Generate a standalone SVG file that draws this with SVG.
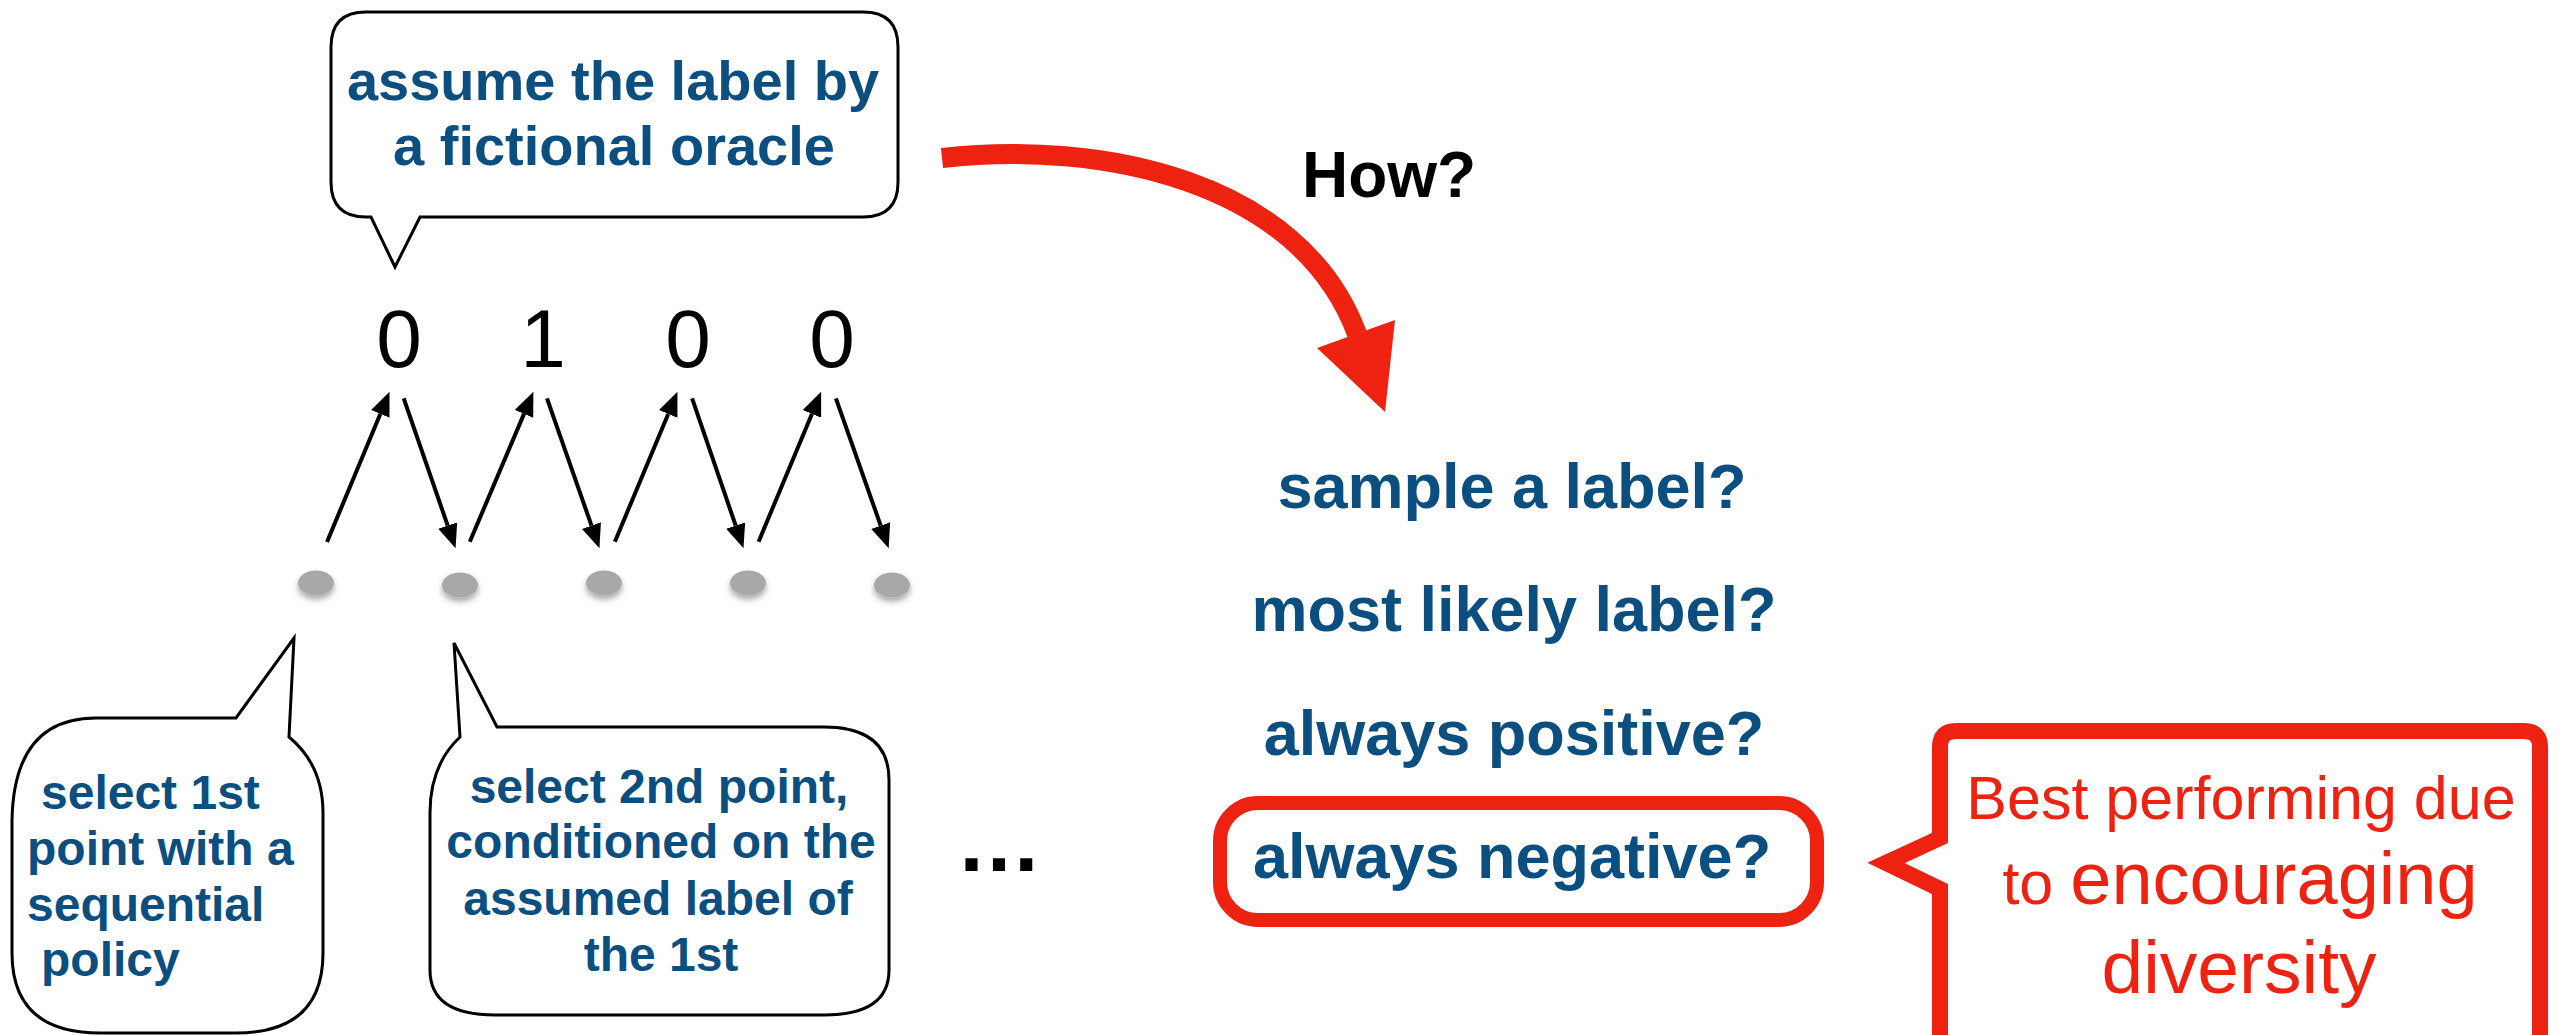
<svg xmlns="http://www.w3.org/2000/svg" width="2566" height="1035" viewBox="0 0 2566 1035">
<style>
.bubble{fill:#fff;stroke:#000;stroke-width:3;stroke-linejoin:miter}
.blue{fill:#0b4e80;font-family:"Liberation Sans",Arial,sans-serif;font-weight:bold}
.digit{fill:#000;font-family:"Liberation Sans",Arial,sans-serif;font-size:82px;text-anchor:middle}
.red{fill:#ee2211;font-family:"Liberation Sans",Arial,sans-serif}
.arr{stroke:#000;stroke-width:4;fill:none}
.dot{fill:#a7a9a8;filter:url(#sh)}
</style>
<defs>
<marker id="ah" markerUnits="userSpaceOnUse" markerWidth="24" markerHeight="20" refX="0" refY="10" orient="auto">
<path d="M0,0 L24,10 L0,20 Z" fill="#000"/>
</marker>
<filter id="sh" x="-50%" y="-50%" width="200%" height="220%">
<feDropShadow dx="0" dy="4" stdDeviation="3" flood-color="#000" flood-opacity="0.35"/>
</filter>
</defs>
<rect width="2566" height="1035" fill="#fff"/>

<g id="oracle-callout">
<path class="bubble" d="M366,12 L863,12 Q898,12 898,47 L898,182 Q898,217 863,217 L420,217 L395,267 L371,217 L366,217 Q331,217 331,182 L331,47 Q331,12 366,12 Z"/>
<text class="blue" font-size="56" text-anchor="middle"><tspan x="613" y="100">assume the label by</tspan><tspan x="614" y="165">a fictional oracle</tspan></text>
</g>

<g id="labels">
<text class="digit" x="399" y="367">0</text>
<text class="digit" x="543" y="367">1</text>
<text class="digit" x="688" y="367">0</text>
<text class="digit" x="832" y="367">0</text>
</g>

<g id="points">
<ellipse class="dot" cx="316" cy="583" rx="18" ry="12.5"/>
<ellipse class="dot" cx="460" cy="585" rx="18" ry="12.5"/>
<ellipse class="dot" cx="604" cy="583" rx="18" ry="12.5"/>
<ellipse class="dot" cx="748" cy="583" rx="18" ry="12.5"/>
<ellipse class="dot" cx="892" cy="585" rx="18" ry="12.5"/>
</g>

<g id="connectors">
<line class="arr" x1="327" y1="542" x2="380.3" y2="413.9" marker-end="url(#ah)"/>
<line class="arr" x1="403.7" y1="398.3" x2="447.7" y2="525.6" marker-end="url(#ah)"/>
<line class="arr" x1="469.8" y1="541.7" x2="524" y2="413.9" marker-end="url(#ah)"/>
<line class="arr" x1="547" y1="398.3" x2="591.5" y2="525.6" marker-end="url(#ah)"/>
<line class="arr" x1="614.9" y1="541.7" x2="668.2" y2="413.9" marker-end="url(#ah)"/>
<line class="arr" x1="692.1" y1="398.3" x2="735.7" y2="525.6" marker-end="url(#ah)"/>
<line class="arr" x1="758.6" y1="541.7" x2="811.9" y2="413.9" marker-end="url(#ah)"/>
<line class="arr" x1="835.9" y1="398.3" x2="880.7" y2="525.6" marker-end="url(#ah)"/>
<path d="M942,158 C1100,140 1300,180 1357,334" fill="none" stroke="#ee2211" stroke-width="20"/>
<polygon points="1317,348 1395,320 1385,412" fill="#ee2211"/>
</g>

<g id="first-callout">
<path class="bubble" d="M96,718 L236,718 L294,638 L289,737 Q323,765 323,813 L323,953 Q323,1033 236,1033 L100,1033 Q12,1033 12,953 L12,820 Q14,718 96,718 Z"/>
<text class="blue" font-size="48"><tspan x="41" y="809">select 1st</tspan><tspan x="27" y="865">point with a</tspan><tspan x="27" y="921">sequential</tspan><tspan x="41" y="976">policy</tspan></text>
</g>

<g id="second-callout">
<path class="bubble" d="M497,727 L824,727 Q889,727 889,780 L889,970 Q889,1015 824,1015 L495,1015 Q430,1015 430,970 L430,813 Q430,765 460,737 L454,643 Z"/>
<text class="blue" font-size="48" text-anchor="middle"><tspan x="659" y="803">select 2nd point,</tspan><tspan x="661" y="858">conditioned on the</tspan><tspan x="658" y="915">assumed label of</tspan><tspan x="661" y="971">the 1st</tspan></text>
</g>

<g id="ellipsis">
<text x="999" y="871" font-family="Liberation Sans,Arial,sans-serif" font-weight="bold" font-size="86" text-anchor="middle" fill="#000">…</text>
</g>

<g id="how">
<text x="1302" y="197" font-family="Liberation Sans,Arial,sans-serif" font-weight="bold" font-size="64" fill="#000">How?</text>
</g>

<g id="options">
<text class="blue" font-size="63" text-anchor="middle" x="1512" y="508">sample a label?</text>
<text class="blue" font-size="63" text-anchor="middle" x="1514" y="631">most likely label?</text>
<text class="blue" font-size="63" text-anchor="middle" x="1514" y="755">always positive?</text>
</g>

<g id="always-negative">
<rect x="1220" y="803" width="597" height="117" rx="38" ry="38" fill="none" stroke="#ee2211" stroke-width="14"/>
<text class="blue" font-size="63" text-anchor="middle" x="1512" y="878">always negative?</text>
</g>

<g id="best-callout">
<path d="M1940,838 L1940,747 Q1940,731 1956,731 L2524,731 Q2540,731 2540,747 L2540,1060 L1940,1060 L1940,889 L1886,863 Z" fill="#fff" stroke="#ee2211" stroke-width="16" stroke-miterlimit="10"/>
<text class="red" font-size="61" text-anchor="middle" x="2241" y="819">Best performing due</text>
<text class="red" text-anchor="middle" x="2240" y="904"><tspan font-size="61">to </tspan><tspan font-size="74">encouraging</tspan></text>
<text class="red" font-size="75" text-anchor="middle" x="2239" y="993">diversity</text>
</g>
</svg>
